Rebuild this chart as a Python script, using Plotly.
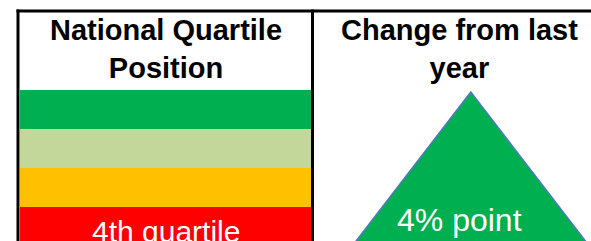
import plotly.graph_objects as go

# ---- data ----
quartiles = ["4th quartile", "3rd quartile", "2nd quartile", "1st quartile"]
quartile_colors = ["#FF0000", "#FFC000", "#C4D79B", "#00B050"]
band_values = [1, 1, 1, 1]
current_quartile = "4th quartile"
change_value = 4
change_unit = "% point"
titles = ["National Quartile<br>Position", "Change from last<br>year"]

W, H = 591, 241


def px(x):
    return x / W


def py(y):
    return 1 - y / H


fig = go.Figure()

fig.add_trace(go.Bar(
    y=quartiles, x=band_values, orientation="h",
    marker=dict(color=quartile_colors, line=dict(width=0)),
    xaxis="x", yaxis="y", hoverinfo="skip", showlegend=False,
))

fig.add_annotation(
    x=0.5, y=current_quartile, xref="x", yref="y", text=current_quartile,
    showarrow=False, yshift=-5, xshift=1,
    font=dict(family="Liberation Sans, Arial, sans-serif", size=30, color="white"),
)

symbol = "triangle-up" if change_value > 0 else "triangle-down"
fig.add_trace(go.Scatter(
    x=[0], y=[0], mode="markers",
    marker=dict(symbol=symbol, size=240, color="#00B050",
                line=dict(color="#5078C0", width=1.5)),
    xaxis="x2", yaxis="y2", hoverinfo="skip", showlegend=False,
))

fig.add_annotation(
    x=0, y=0, xref="x2", yref="y2", text=f"{change_value}{change_unit}",
    showarrow=False, xshift=-11, yshift=-8,
    font=dict(family="Liberation Sans, Arial, sans-serif", size=32, color="white"),
)

for t, xc in zip(titles, [165.5, 459.5]):
    fig.add_annotation(
        x=px(xc), y=py(49), xref="paper", yref="paper", text=f"<b>{t}</b>",
        showarrow=False, xanchor="center", yanchor="middle",
        font=dict(family="Liberation Sans, Arial, sans-serif", size=29, color="black"),
    )

line = dict(color="black", width=3)
fig.add_shape(type="line", xref="paper", yref="paper", x0=px(16.5), x1=px(W + 2), y0=py(11), y1=py(11), line=line)
fig.add_shape(type="line", xref="paper", yref="paper", x0=px(18), x1=px(18), y0=py(9.5), y1=py(H + 2), line=line)
fig.add_shape(type="line", xref="paper", yref="paper", x0=px(312.5), x1=px(312.5), y0=py(9.5), y1=py(H + 2), line=line)

hidden = dict(visible=False, showgrid=False, zeroline=False, fixedrange=True)
fig.update_layout(
    width=W, height=H, margin=dict(l=0, r=0, t=0, b=0),
    paper_bgcolor="white", plot_bgcolor="rgba(0,0,0,0)",
    bargap=0,
    xaxis=dict(domain=[px(19.5), px(311)], range=[0, 1], **hidden),
    yaxis=dict(domain=[0, py(90)], range=[-0.37, 3.5], **hidden),
    xaxis2=dict(domain=[px(314), 1], range=[-0.566, 0.434], anchor="y2", **hidden),
    yaxis2=dict(domain=[0, 1], range=[-0.1203, 0.8797], anchor="x2", **hidden),
)

fig.write_html(
    "out.html",
    config={"displayModeBar": False, "staticPlot": True},
    post_script="document.body.style.margin='0';document.body.style.overflow='hidden';",
)
